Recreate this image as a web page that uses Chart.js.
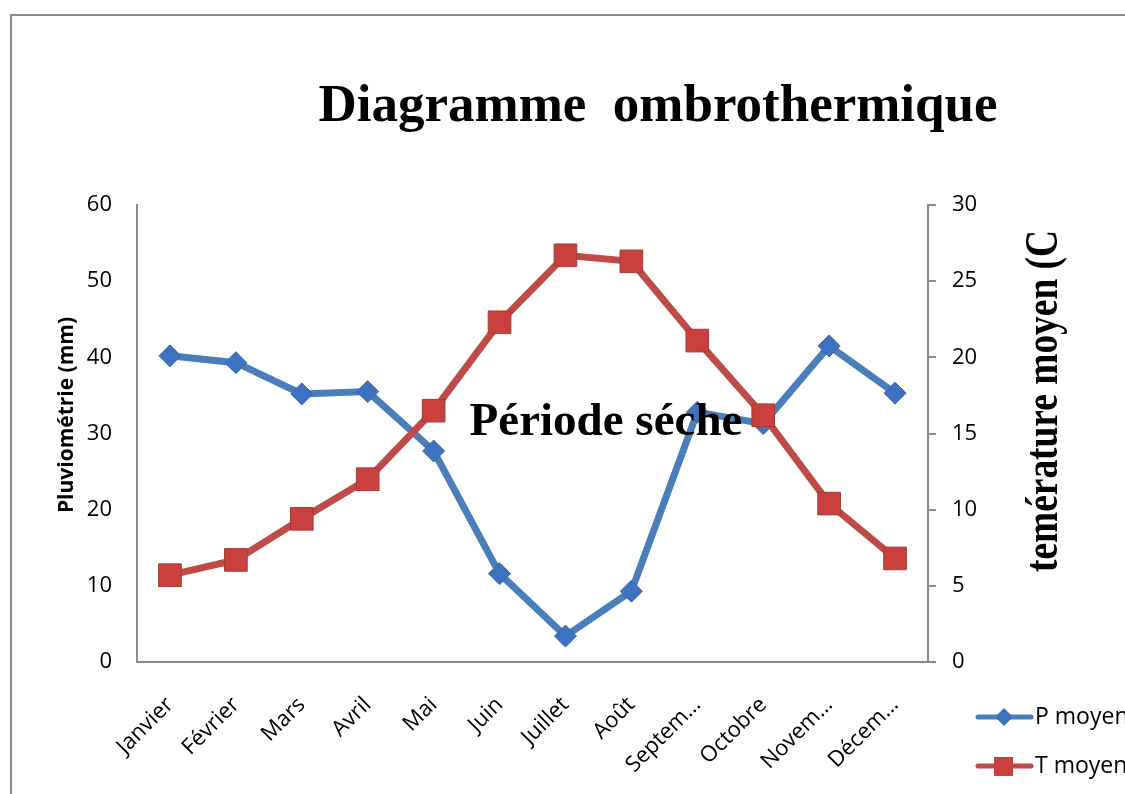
<!DOCTYPE html>
<html>
<head>
<meta charset="utf-8">
<script src="https://cdn.jsdelivr.net/npm/chart.js@4.4.1/dist/chart.umd.min.js"></script>
<style>
  html, body { margin: 0; padding: 0; background: #fff; overflow: hidden; }
  #wrap { position: relative; width: 1125px; height: 794px; overflow: hidden; }
  #frame { position: absolute; left: 10px; top: 14px; width: 1300px; height: 1000px; border: 2px solid #8c8c8c; }
  canvas { position: absolute; left: 0; top: 0; }
</style>
</head>
<body>
<div id="wrap"><div id="frame"></div><canvas id="chart" width="1125" height="794"></canvas></div>
<script>
// ----- data -----
const months = ["Janvier", "Février", "Mars", "Avril", "Mai", "Juin", "Juillet", "Août", "Septem…", "Octobre", "Novem…", "Décem…"];
const pMoyen = [40.2, 39.3, 35.2, 35.5, 27.7, 11.6, 3.4, 9.3, 32.8, 31.3, 41.5, 35.3];   // mm
const tMoyen = [5.7, 6.7, 9.4, 12.0, 16.5, 22.3, 26.7, 26.3, 21.1, 16.2, 10.4, 6.8];     // °C
const pAxis = { min: 0, max: 60, step: 10 };
const tAxis = { min: 0, max: 30, step: 5 };

const TITLE = "Diagramme  ombrothermique";
const DRY_LABEL = "Période séche";
const Y_TITLE = "Pluviométrie (mm)";
const Y1_TITLE = "temérature moyen (C";
const LEGEND = ["P moyen", "T moyen"];

const C_BLUE = "#4a7ebb", C_BLUE_PT = "#3c72bf";
const C_RED = "#be4b48", C_RED_PT = "#c9403c";
const GREY = "#8a8a8a";
const TICK_FONT = { family: "'Open Sans', sans-serif", size: 22 };

// ----- texts + legend drawn over the chart -----
const overlay = {
  id: "overlay",
  afterDraw(chart) {
    const ctx = chart.ctx;
    ctx.save();
    ctx.fillStyle = "#000";
    ctx.textAlign = "center"; ctx.textBaseline = "alphabetic";
    ctx.font = "bold 53px 'Liberation Serif', serif";
    ctx.fillText(TITLE, 658, 121);
    ctx.font = "bold 47px 'Liberation Serif', serif";
    ctx.fillText(DRY_LABEL, 606, 435);

    ctx.save(); ctx.translate(73, 415); ctx.rotate(-Math.PI / 2);
    ctx.font = "bold 21px 'Open Sans', sans-serif";
    ctx.fillText(Y_TITLE, 0, 0); ctx.restore();

    ctx.save(); ctx.translate(1057, 572); ctx.rotate(-Math.PI / 2);
    ctx.textAlign = "left";
    ctx.font = "bold 46px 'Liberation Serif', serif";
    ctx.fillText(Y1_TITLE, 0, 0, 342); ctx.restore();

    // legend
    const rows = [
      { y: 717, color: C_BLUE, fill: C_BLUE_PT, shape: "diamond", text: LEGEND[0] },
      { y: 766, color: C_RED, fill: C_RED_PT, shape: "square", text: LEGEND[1] }
    ];
    rows.forEach(r => {
      ctx.strokeStyle = r.color; ctx.lineWidth = 5; ctx.lineCap = "round";
      ctx.beginPath(); ctx.moveTo(978, r.y); ctx.lineTo(1031, r.y); ctx.stroke();
      ctx.fillStyle = r.fill;
      ctx.beginPath();
      if (r.shape === "diamond") {
        ctx.moveTo(1004, r.y - 9); ctx.lineTo(1013, r.y); ctx.lineTo(1004, r.y + 9); ctx.lineTo(995, r.y);
      } else {
        ctx.rect(994, r.y - 9, 19, 19);
      }
      ctx.closePath(); ctx.fill();
      ctx.fillStyle = "#000"; ctx.textAlign = "left"; ctx.textBaseline = "middle";
      ctx.font = "23px 'Open Sans', sans-serif";
      ctx.fillText(r.text, 1035, r.y);
    });
    ctx.restore();
  }
};

new Chart(document.getElementById("chart").getContext("2d"), {
  type: "line",
  data: {
    labels: months,
    datasets: [
      { label: LEGEND[0], data: pMoyen, yAxisID: "y", order: 1,
        borderColor: C_BLUE, borderWidth: 7, tension: 0,
        pointStyle: "rectRot", pointRadius: 11, pointBackgroundColor: C_BLUE_PT, pointBorderColor: "#3a68a8", pointBorderWidth: 1 },
      { label: LEGEND[1], data: tMoyen, yAxisID: "y1", order: 0,
        borderColor: C_RED, borderWidth: 7, tension: 0,
        pointStyle: "rect", pointRadius: 16, pointBackgroundColor: C_RED_PT, pointBorderColor: "#a33b38", pointBorderWidth: 1 }
    ]
  },
  options: {
    responsive: false, animation: false,
    layout: { padding: { top: 205, left: 0, right: 0, bottom: 0 } },
    plugins: { legend: { display: false }, tooltip: { enabled: false }, title: { display: false } },
    scales: {
      x: {
        type: "category", offset: true,
        grid: { display: false },
        border: { display: true, color: GREY, width: 2 },
        ticks: { color: "#000", font: TICK_FONT, minRotation: 45, maxRotation: 45, padding: 22, autoSkip: false },
        afterFit: (s) => { s.height = 132; }
      },
      y: {
        position: "left", min: pAxis.min, max: pAxis.max,
        grid: { display: false, drawTicks: false },
        border: { display: true, color: GREY, width: 2 },
        ticks: { stepSize: pAxis.step, color: "#000", font: TICK_FONT, padding: 25 },
        afterFit: (s) => { s.width = 137; }
      },
      y1: {
        position: "right", min: tAxis.min, max: tAxis.max,
        grid: { drawOnChartArea: false, drawTicks: true, tickLength: 8, color: GREY, lineWidth: 2 },
        border: { display: true, color: GREY, width: 2 },
        ticks: { stepSize: tAxis.step, color: "#000", font: TICK_FONT, padding: 16 },
        afterFit: (s) => { s.width = 197; }
      }
    }
  },
  plugins: [overlay]
});
</script>
</body>
</html>
